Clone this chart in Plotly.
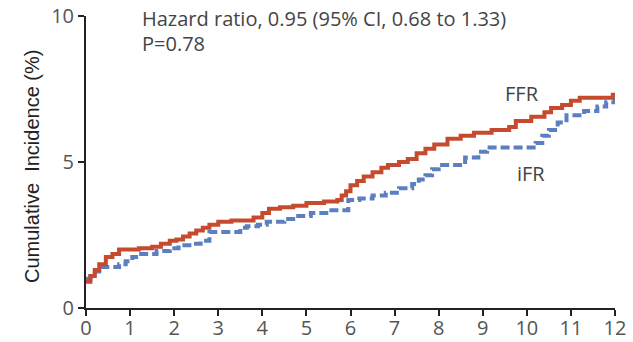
import plotly.graph_objects as go

# Kaplan-Meier style cumulative incidence (%) by month
ffr_months = [0, 0.1, 0.2, 0.3, 0.45, 0.6, 0.75, 1.2, 1.5, 1.7, 1.9, 2.05, 2.2, 2.35, 2.5,
              2.65, 2.8, 3.0, 3.3, 3.8, 4.0, 4.15, 4.4, 4.7, 5.0, 5.4, 5.7, 5.8, 5.9, 6.0,
              6.15, 6.3, 6.5, 6.7, 6.85, 7.1, 7.3, 7.5, 7.7, 7.9, 8.2, 8.5, 8.8, 9.2, 9.6,
              9.75, 10.1, 10.4, 10.55, 10.8, 11.0, 11.2, 11.95, 12]
ffr_incidence = [0.9, 1.1, 1.3, 1.5, 1.75, 1.85, 2.0, 2.05, 2.1, 2.2, 2.3, 2.35, 2.45, 2.55, 2.65,
                 2.75, 2.85, 2.95, 3.0, 3.1, 3.25, 3.4, 3.45, 3.5, 3.6, 3.65, 3.7, 3.85, 4.0, 4.2,
                 4.35, 4.5, 4.65, 4.8, 4.9, 5.0, 5.1, 5.3, 5.45, 5.6, 5.8, 5.9, 6.0, 6.1, 6.2,
                 6.4, 6.55, 6.7, 6.85, 6.95, 7.1, 7.2, 7.3, 7.3]

ifr_months = [0, 0.1, 0.2, 0.3, 0.75, 0.9, 1.05, 1.2, 1.6, 1.9, 2.1, 2.4, 2.6, 2.8, 3.5, 3.65,
              3.9, 4.1, 4.5, 4.7, 5.1, 5.5, 5.95, 6.2, 6.5, 6.8, 7.1, 7.4, 7.55, 7.7, 7.85,
              8.0, 8.6, 8.9, 9.1, 10.2, 10.35, 10.5, 10.7, 10.9, 11.3, 11.6, 11.8, 12]
ifr_incidence = [1.0, 1.1, 1.25, 1.4, 1.5, 1.6, 1.75, 1.85, 1.95, 2.05, 2.15, 2.2, 2.3, 2.6, 2.75,
                 2.8, 2.85, 2.95, 3.05, 3.15, 3.25, 3.35, 3.7, 3.75, 3.85, 3.95, 4.1, 4.25, 4.4,
                 4.55, 4.75, 4.9, 5.15, 5.35, 5.5, 5.65, 5.9, 6.1, 6.35, 6.6, 6.75, 6.9, 7.05, 7.2]

x_ticks = list(range(0, 13))
y_ticks = [0, 5, 10]

RED = "#c64a2e"
BLUE = "#5b7fc0"
TEXT = "#444444"
FONT = "Open Sans"

fig = go.Figure()
fig.add_trace(go.Scatter(x=ifr_months, y=ifr_incidence, mode="lines", line_shape="hv",
                         line=dict(color=BLUE, width=4, dash="9px,4px"), name="iFR"))
fig.add_trace(go.Scatter(x=ffr_months, y=ffr_incidence, mode="lines", line_shape="hv",
                         line=dict(color=RED, width=4), name="FFR"))

# Series labels next to the curves
fig.add_annotation(x=9.89, y=7.36, xref="x", yref="y", text="FFR", showarrow=False,
                   font=dict(family=FONT, size=20, color=TEXT))
fig.add_annotation(x=10.1, y=4.59, xref="x", yref="y", text="iFR", showarrow=False,
                   font=dict(family=FONT, size=20, color=TEXT))

# Statistics text in the upper left
fig.add_annotation(x=0.102, y=0.99, xref="paper", yref="paper", xanchor="left",
                   yanchor="middle", text="Hazard ratio, 0.95 (95% CI, 0.68 to 1.33)",
                   showarrow=False, font=dict(family=FONT, size=20, color=TEXT))
fig.add_annotation(x=0.102, y=0.906, xref="paper", yref="paper", xanchor="left",
                   yanchor="middle", text="P=0.78", showarrow=False,
                   font=dict(family=FONT, size=20, color=TEXT))

# Vertical axis title
fig.add_annotation(x=-0.102, y=0.483, xref="paper", yref="paper", xanchor="center",
                   yanchor="middle", textangle=-90,
                   text="Cumulative\u00a0 Incidence (%)", showarrow=False,
                   font=dict(family="Liberation Sans", size=20, color="#222"))

fig.update_layout(
    width=633, height=342,
    margin=dict(l=86, r=18, t=16, b=34, autoexpand=False),
    paper_bgcolor="white", plot_bgcolor="white",
    showlegend=False,
)
fig.update_xaxes(range=[0, 12], tickvals=x_ticks, ticktext=[str(v) for v in x_ticks],
                 automargin=False, ticklabelstandoff=-5,
                 showline=True, linecolor="#222", linewidth=2, ticks="outside",
                 ticklen=6, tickwidth=2, tickcolor="#222", showgrid=False, zeroline=False,
                 tickfont=dict(family=FONT, size=20, color="#555"))
fig.update_yaxes(range=[0, 10], tickvals=y_ticks, ticktext=[str(v) for v in y_ticks],
                 automargin=False,
                 showline=True, linecolor="#222", linewidth=2, ticks="outside",
                 ticklen=6, tickwidth=2, tickcolor="#222", showgrid=False, zeroline=False,
                 tickfont=dict(family=FONT, size=20, color="#555"))

fig.write_html("out.html")
